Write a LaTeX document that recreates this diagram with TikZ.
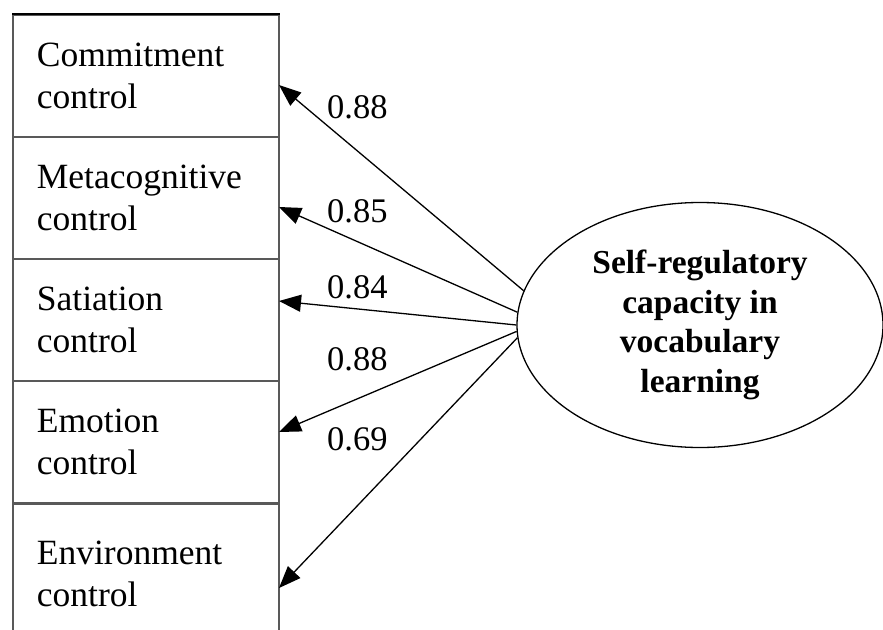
\documentclass[tikz,border=0pt]{standalone}
\usepackage{fontspec}
\setmainfont{Liberation Serif}
\usetikzlibrary{shapes.geometric,arrows.meta}
\begin{document}
\begin{tikzpicture}[x=1pt,y=-1pt,
  boxnode/.style={draw=black!65,line width=1.8pt,minimum width=266pt,minimum height=122pt,
    anchor=north west,inner xsep=22pt,text width=218pt,align=left,
    font=\fontsize{35.5}{42}\selectfont},
  latent/.style={draw,ellipse,line width=1.3pt,minimum width=366pt,minimum height=245pt,inner sep=0pt,
    align=center,font=\fontsize{33.5}{39.5}\selectfont\bfseries},
  path/.style={draw,line width=1.3pt,-{Triangle[length=22pt,width=17pt]}},
  coef/.style={font=\fontsize{34.5}{40}\selectfont,anchor=base west,inner sep=0pt}]
\useasboundingbox (0,0) rectangle (883,629);
\clip (0,0) rectangle (883,629);
\node[boxnode] (b1) at (12,14) {Commitment\\control};
\node[boxnode] (b2) at (12,136) {Metacognitive\\control};
\node[boxnode] (b3) at (12,258) {Satiation\\control};
\node[boxnode] (b4) at (12,380) {Emotion\\control};
\node[boxnode,minimum height=140pt] (b5) at (12,503) {Environment\\control};
\draw[line width=2pt] (b1.north west) -- (b1.north east);
\node[latent] (lat) at (700,325) {Self-regulatory\\capacity in\\vocabulary\\learning};
\coordinate (t1) at (279,85);
\coordinate (t2) at (279,207);
\coordinate (t3) at (279,301);
\coordinate (t4) at (279,432);
\coordinate (t5) at (279,588);
\draw[path] (lat.169.4) -- (t1);
\draw[path] (lat.176.8) -- (t2);
\draw[path] (lat.180) -- (t3);
\draw[path] (lat.182.2) -- (t4);
\draw[path] (lat.184.1) -- (t5);
\node[coef] (c1) at (327,118) {0.88};
\node[coef] (c2) at (327,222) {0.85};
\node[coef] (c3) at (327,298) {0.84};
\node[coef] (c4) at (327,370) {0.88};
\node[coef] (c5) at (327,450) {0.69};
\end{tikzpicture}
\end{document}
